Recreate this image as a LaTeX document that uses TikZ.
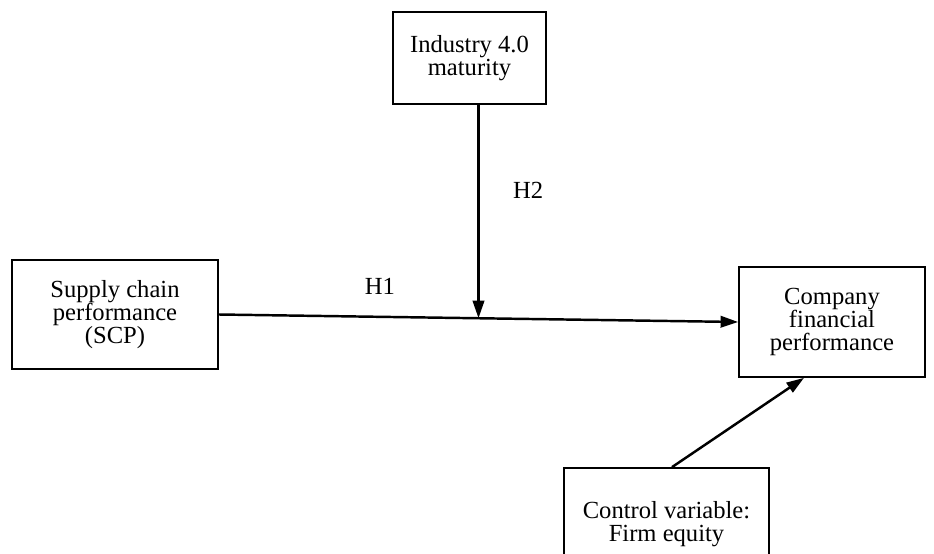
\documentclass[tikz,border=0pt]{standalone}
\usepackage{fontspec}
\setmainfont{Liberation Serif}
\usetikzlibrary{arrows.meta, positioning, calc}

\begin{document}
\begin{tikzpicture}[x=0.02cm, y=-0.02cm,
    varbox/.style={rectangle, draw, line width=1pt, align=center, inner sep=0pt,
        font=\fontsize{14}{13}\selectfont},
    link/.style={line width=1.4pt, -{Triangle[length=10pt, width=6.5pt]}}]
    \clip (0,0) rectangle (934,554);

    \node (ind) [varbox, minimum width=3.06cm, minimum height=1.84cm] at (469.5,58) {Industry 4.0\\maturity};
    \node (scp) [varbox, minimum width=4.12cm, minimum height=2.18cm] at (115,314.5) {Supply chain\\performance\\(SCP)};
    \node (cfp) [varbox, minimum width=3.72cm, minimum height=2.2cm] at (832,322) {Company\\financial\\performance};
    \node (ctrl) [varbox, minimum width=4.1cm, minimum height=2.24cm] at (666.5,524) {Control variable:\\Firm equity};

    \draw [link] (scp.east) -- node[pos=0.31, above=0.3cm, font=\fontsize{14}{13}\selectfont]{H1} coordinate[pos=0.5] (mod) (cfp.west);
    \draw [link] (ind.south -| mod) -- node[pos=0.4, right=0.55cm, font=\fontsize{14}{13}\selectfont]{H2} (mod);
    \draw [link] ($(ctrl.north)+(5.5,0)$) -- ($(cfp.south)+(-28,0)$);
\end{tikzpicture}
\end{document}
